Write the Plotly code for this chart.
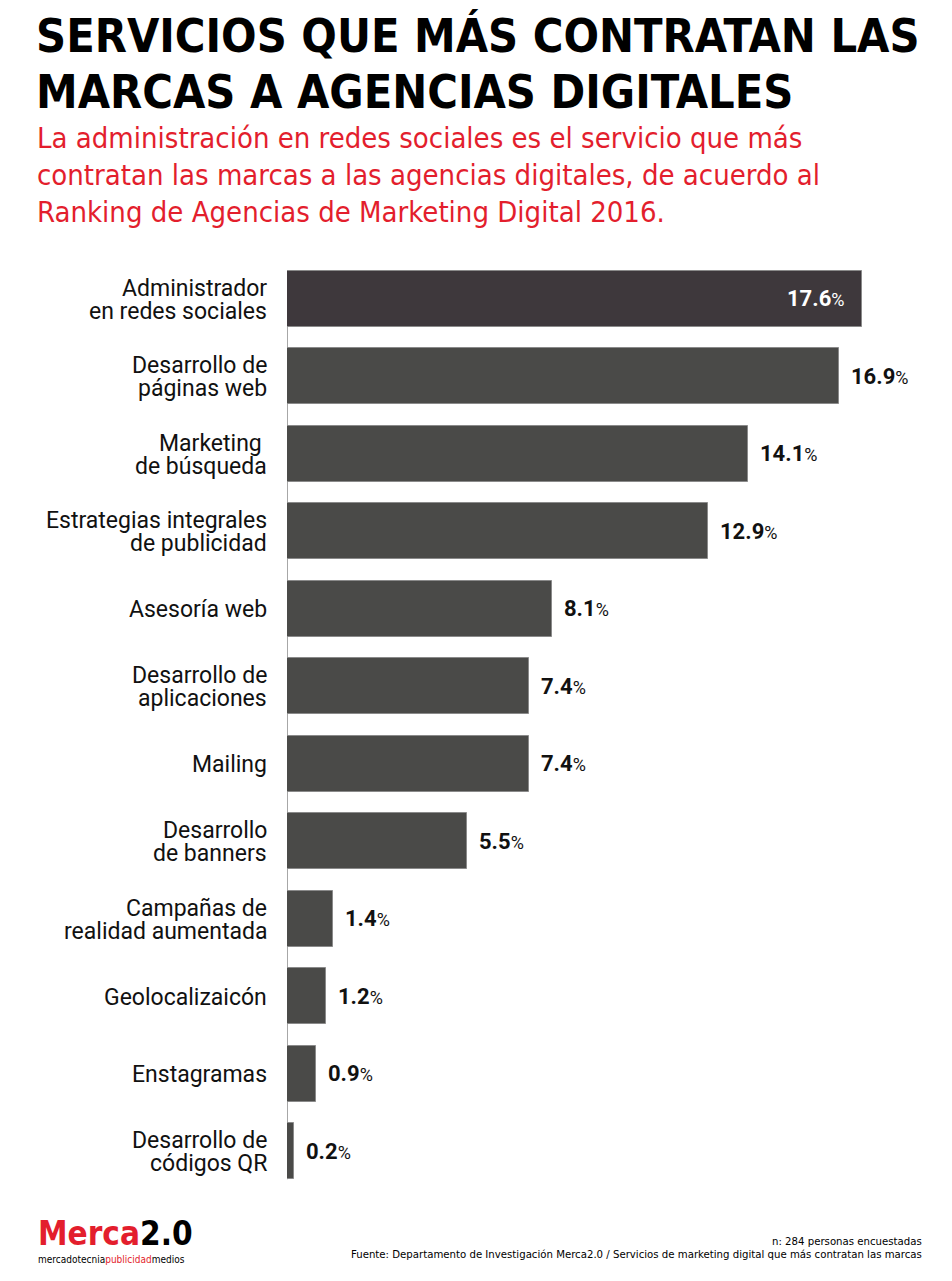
import plotly.graph_objects as go

categories = [
    "Administrador<br>en redes sociales",
    "Desarrollo de<br>páginas web",
    "Marketing <br>de búsqueda",
    "Estrategias integrales<br>de publicidad",
    "Asesoría web",
    "Desarrollo de<br>aplicaciones",
    "Mailing",
    "Desarrollo<br>de banners",
    "Campañas de<br>realidad aumentada",
    "Geolocalizaicón",
    "Enstagramas",
    "Desarrollo de<br>códigos QR",
]
values = [17.6, 16.9, 14.1, 12.9, 8.1, 7.4, 7.4, 5.5, 1.4, 1.2, 0.9, 0.2]

title_lines = ["SERVICIOS QUE MÁS CONTRATAN LAS", "MARCAS A AGENCIAS DIGITALES"]
subtitle_lines = [
    "La administración en redes sociales es el servicio que más",
    "contratan las marcas a las agencias digitales, de acuerdo al",
    "Ranking de Agencias de Marketing Digital 2016.",
]
footer_n = "n: 284 personas encuestadas"
footer_src = "Fuente: Departamento de Investigación Merca2.0 / Servicios de marketing digital que más contratan las marcas"

W, H = 952, 1281
L, R, T, B = 287, 12, 260, 91
PW, PH = W - L - R, H - T - B
FONT = "Roboto"
COND = "DejaVu Sans Condensed"


def px(xp):
    return (xp - L) / PW


def py(yp):
    return 1 - (yp - T) / PH


ypos = list(range(len(categories)))
colors = ["#3e383c"] + ["#4a4a48"] * (len(values) - 1)

fig = go.Figure()
fig.add_trace(go.Bar(
    x=values, y=ypos, orientation="h", width=0.72,
    marker=dict(color=colors, line=dict(color="#8a8a8a", width=1)),
    hoverinfo="skip",
))

ann = []
for i, (c, v) in enumerate(zip(categories, values)):
    parts = c.split("<br>")
    n = len(parts)
    for j, p in enumerate(parts):
        off = (j - (n - 1) / 2) * 23
        ann.append(dict(x=0, y=i, xref="x", yref="y", text=p, showarrow=False,
                        xanchor="right", yanchor="middle", align="right",
                        xshift=-18, yshift=-off - 1,
                        font=dict(family=FONT, size=23, color="#111111")))
    txt = f"<b>{v:.1f}</b><span style='font-size:18px'>%</span>"
    if i == 0:
        ann.append(dict(x=v, y=i, xref="x", yref="y", text=txt, showarrow=False,
                        xanchor="right", yanchor="middle", xshift=-16,
                        font=dict(family=FONT, size=22, color="#ffffff")))
    else:
        ann.append(dict(x=v, y=i, xref="x", yref="y", text=txt, showarrow=False,
                        xanchor="left", yanchor="middle", xshift=10,
                        font=dict(family=FONT, size=22, color="#111111")))

# title
for k, t in enumerate(title_lines):
    ann.append(dict(x=px(34), y=py(7 + k * 56), xref="paper", yref="paper",
                    text=f"<b>{t}</b>", showarrow=False, xanchor="left", yanchor="top",
                    font=dict(family=COND, size=46.5, color="#000000")))
for k, t in enumerate(subtitle_lines):
    ann.append(dict(x=px(35), y=py(119 + k * 37), xref="paper", yref="paper",
                    text=t, showarrow=False, xanchor="left", yanchor="top",
                    font=dict(family=COND, size=29, color="#e31e2d")))

# footer
ann.append(dict(x=px(924), y=py(1233), xref="paper", yref="paper", text=footer_n,
                showarrow=False, xanchor="right", yanchor="top",
                font=dict(family=COND, size=11.3, color="#000000")))
ann.append(dict(x=px(924), y=py(1246), xref="paper", yref="paper", text=footer_src,
                showarrow=False, xanchor="right", yanchor="top",
                font=dict(family=COND, size=11.3, color="#000000")))
ann.append(dict(x=px(36), y=py(1212), xref="paper", yref="paper",
                text="<b><span style='color:#e31e2d'>Merca</span>2.0</b>",
                showarrow=False, xanchor="left", yanchor="top",
                font=dict(family=COND, size=33, color="#000000")))
ann.append(dict(x=px(36), y=py(1252), xref="paper", yref="paper",
                text="mercadotecnia<span style='color:#e31e2d'>publicidad</span>medios",
                showarrow=False, xanchor="left", yanchor="top",
                font=dict(family=COND, size=10, color="#000000")))

fig.add_shape(type="line", xref="x", yref="y", x0=0, x1=0, y0=-0.36, y1=len(values) - 0.64,
              line=dict(color="#8a8a8a", width=1.5), layer="below")

fig.update_layout(
    width=W, height=H, paper_bgcolor="white", plot_bgcolor="white",
    margin=dict(l=L, r=R, t=T, b=B),
    showlegend=False, annotations=ann, bargap=0,
    xaxis=dict(range=[0, PW / 32.67], visible=False, fixedrange=True),
    yaxis=dict(range=[len(values) - 0.5, -0.5], visible=False, fixedrange=True),
)
fig.write_html("out.html", config={"displayModeBar": False},
               post_script="document.body.style.margin='0';document.body.style.overflow='hidden';")
